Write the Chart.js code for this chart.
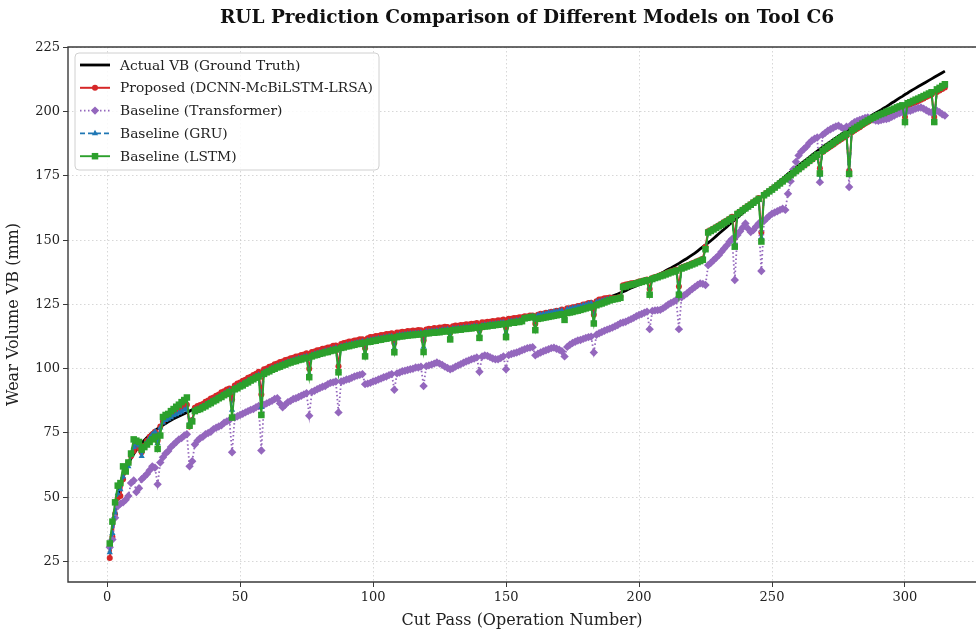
<!DOCTYPE html>
<html>
<head>
<meta charset="utf-8">
<script src="https://cdn.jsdelivr.net/npm/chart.js@4.4.0/dist/chart.umd.min.js"></script>
<style>
  html, body { margin: 0; padding: 0; background: #fff; }
  #wrap { width: 976px; height: 633px; }
</style>
</head>
<body>
<div id="wrap"><canvas id="chart" width="976" height="633"></canvas></div>
<script>
// ---- data ----
const chartTitle = 'RUL Prediction Comparison of Different Models on Tool C6';
const cutPass = Array.from({length: 315}, (_, i) => i + 1);
const xTicks = [0, 50, 100, 150, 200, 250, 300];
const yTicks = [25, 50, 75, 100, 125, 150, 175, 200, 225];

const actualVB = [
  28.0, 37.5, 45.0, 50.5, 54.5, 57.8, 60.6, 63.0, 65.0, 66.8,
  68.4, 69.8, 71.0, 72.2, 73.2, 74.2, 75.1, 75.9, 76.7, 77.4,
  78.1, 78.7, 79.3, 79.9, 80.5, 81.0, 81.5, 82.0, 82.5, 83.0,
  83.5, 84.0, 84.5, 85.0, 85.5, 86.1, 86.7, 87.3, 87.9, 88.5,
  89.1, 89.7, 90.3, 90.9, 91.5, 92.1, 92.6, 93.2, 93.7, 94.3,
  94.8, 95.4, 96.0, 96.6, 97.2, 97.7, 98.3, 98.8, 99.3, 99.8,
  100.3, 100.8, 101.3, 101.7, 102.1, 102.5, 102.9, 103.3, 103.7, 104.0,
  104.3, 104.6, 104.9, 105.2, 105.5, 105.8, 106.1, 106.4, 106.7, 107.0,
  107.3, 107.6, 107.8, 108.1, 108.4, 108.7, 109.0, 109.3, 109.6, 109.9,
  110.1, 110.3, 110.6, 110.8, 111.0, 111.2, 111.4, 111.6, 111.8, 112.0,
  112.2, 112.4, 112.6, 112.8, 113.0, 113.2, 113.3, 113.5, 113.6, 113.8,
  113.9, 114.0, 114.2, 114.3, 114.4, 114.5, 114.6, 114.7, 114.8, 115.0,
  115.1, 115.2, 115.3, 115.4, 115.5, 115.7, 115.8, 115.9, 116.0, 116.2,
  116.3, 116.4, 116.5, 116.7, 116.8, 116.9, 117.0, 117.2, 117.3, 117.4,
  117.6, 117.7, 117.8, 118.0, 118.1, 118.2, 118.4, 118.5, 118.7, 118.8,
  118.9, 119.1, 119.2, 119.4, 119.5, 119.7, 119.9, 120.0, 120.2, 120.4,
  120.5, 120.7, 120.9, 121.1, 121.3, 121.5, 121.7, 121.9, 122.1, 122.3,
  122.5, 122.7, 123.0, 123.2, 123.4, 123.7, 123.9, 124.2, 124.5, 124.8,
  125.1, 125.4, 125.7, 126.0, 126.4, 126.7, 127.1, 127.5, 127.9, 128.3,
  128.7, 129.1, 129.5, 130.0, 130.4, 130.9, 131.4, 131.8, 132.3, 132.8,
  133.3, 133.8, 134.3, 134.8, 135.3, 135.9, 136.4, 137.0, 137.5, 138.1,
  138.7, 139.2, 139.8, 140.4, 141.0, 141.7, 142.3, 142.9, 143.6, 144.3,
  145.0, 145.8, 146.6, 147.4, 148.2, 149.0, 149.8, 150.7, 151.6, 152.5,
  153.4, 154.3, 155.2, 156.1, 157.0, 157.9, 158.8, 159.7, 160.6, 161.5,
  162.4, 163.3, 164.2, 165.1, 166.0, 166.9, 167.8, 168.7, 169.6, 170.5,
  171.4, 172.3, 173.2, 174.0, 174.9, 175.8, 176.6, 177.5, 178.3, 179.1,
  179.9, 180.7, 181.5, 182.3, 183.1, 183.9, 184.7, 185.5, 186.2, 187.0,
  187.7, 188.4, 189.1, 189.8, 190.5, 191.2, 191.9, 192.6, 193.2, 193.9,
  194.5, 195.2, 195.8, 196.4, 197.1, 197.7, 198.3, 198.9, 199.5, 200.1,
  200.7, 201.4, 202.0, 202.7, 203.4, 204.0, 204.7, 205.4, 206.0, 206.7,
  207.3, 208.0, 208.6, 209.2, 209.8, 210.4, 211.0, 211.6, 212.2, 212.8,
  213.4, 214.0, 214.6, 215.2, 215.8
];

const proposed = [
  26.3, 34.5, 43.5, 49.8, 50.5, 57.0, 60.5, 63.5, 66.0, 68.0,
  70.5, 69.0, 67.5, 70.0, 72.0, 73.5, 74.5, 75.5, 72.0, 77.5,
  79.5, 80.5, 81.5, 82.0, 82.8, 83.3, 84.0, 84.8, 85.5, 86.0,
  77.5, 80.0, 84.8, 85.5, 85.9, 86.3, 87.1, 87.6, 88.4, 88.8,
  89.5, 90.0, 90.8, 91.2, 91.9, 92.3, 88.0, 93.5, 94.2, 94.6,
  95.3, 95.7, 96.5, 96.9, 97.6, 98.0, 98.8, 90.0, 99.8, 100.1,
  100.8, 101.1, 101.7, 102.0, 102.6, 102.8, 103.4, 103.6, 104.1, 104.3,
  104.8, 104.9, 105.3, 105.5, 106.0, 100.0, 106.5, 106.7, 107.2, 107.3,
  107.8, 107.9, 108.3, 108.4, 108.9, 109.0, 101.0, 109.6, 110.0, 110.2,
  110.6, 110.6, 111.0, 111.1, 111.5, 111.5, 108.0, 111.9, 112.3, 112.3,
  112.7, 112.7, 113.1, 113.1, 113.5, 113.5, 113.8, 110.0, 114.1, 114.1,
  114.4, 114.3, 114.7, 114.6, 114.9, 114.8, 115.1, 115.0, 111.0, 115.3,
  115.6, 115.5, 115.8, 115.7, 116.0, 116.0, 116.3, 116.2, 114.0, 116.5,
  116.8, 116.7, 117.0, 117.0, 117.3, 117.2, 117.5, 117.5, 117.8, 115.0,
  118.1, 118.0, 118.3, 118.3, 118.6, 118.5, 118.9, 118.8, 119.2, 116.0,
  119.4, 119.4, 119.7, 119.7, 120.0, 120.0, 120.4, 120.3, 120.7, 120.7,
  117.5, 121.0, 121.4, 121.4, 121.8, 121.8, 122.2, 122.2, 122.6, 122.6,
  123.0, 121.0, 123.5, 123.5, 123.9, 124.0, 124.4, 124.5, 125.0, 125.1,
  125.6, 125.7, 121.0, 126.3, 126.9, 127.0, 127.4, 127.5, 127.7, 127.4,
  127.5, 127.6, 128.0, 132.5, 132.8, 133.0, 133.3, 133.4, 133.6, 133.9,
  134.1, 134.4, 134.7, 131.0, 135.3, 135.7, 136.0, 136.4, 136.7, 137.1,
  137.5, 137.9, 138.2, 138.6, 132.0, 139.4, 139.8, 140.2, 140.6, 141.0,
  141.4, 141.9, 142.3, 142.8, 147.5, 153.5, 154.0, 154.6, 155.2, 155.8,
  156.4, 157.1, 157.7, 158.4, 159.1, 151.0, 160.5, 161.2, 162.0, 162.7,
  163.4, 164.1, 164.9, 165.6, 166.4, 153.0, 167.8, 168.5, 169.2, 170.0,
  170.6, 171.4, 172.2, 172.9, 173.7, 174.5, 175.2, 176.0, 176.8, 177.5,
  178.3, 179.1, 179.8, 180.6, 181.3, 182.1, 182.8, 178.0, 184.3, 185.1,
  185.8, 186.5, 187.2, 187.9, 188.6, 189.3, 190.0, 190.7, 177.0, 192.0,
  192.7, 193.4, 194.0, 194.7, 195.4, 196.0, 196.6, 197.1, 197.6, 198.0,
  198.4, 198.8, 199.2, 199.6, 200.0, 200.4, 200.8, 201.2, 201.6, 198.0,
  202.4, 202.8, 203.3, 203.7, 204.2, 204.7, 205.2, 205.7, 206.2, 206.7,
  198.0, 207.7, 208.3, 208.9, 209.4
];

const transformer = [
  30.5, 33.5, 42.0, 46.5, 47.5, 48.0, 49.0, 50.5, 55.5, 56.5,
  52.0, 53.5, 57.0, 58.0, 59.0, 60.5, 62.0, 61.5, 55.0, 63.5,
  65.5, 67.0, 68.0, 69.5, 70.5, 71.5, 72.5, 73.0, 74.0, 74.5,
  62.0, 64.0, 70.5, 72.0, 73.0, 73.5, 74.5, 75.0, 75.5, 76.5,
  77.0, 77.5, 78.0, 79.0, 79.5, 80.0, 67.5, 81.0, 81.5, 82.0,
  82.5, 83.0, 83.5, 84.0, 84.3, 85.0, 85.5, 68.2, 86.0, 86.5,
  87.0, 87.5, 88.2, 88.5, 86.5, 85.0, 86.0, 87.0, 87.5, 88.2,
  88.5, 89.0, 89.5, 90.0, 90.5, 81.7, 91.0, 91.4, 92.0, 92.5,
  93.0, 93.3, 94.0, 94.5, 94.7, 95.0, 83.0, 95.0, 95.3, 95.8,
  96.0, 96.5, 97.0, 97.3, 97.6, 97.9, 94.0, 94.2, 94.5, 95.0,
  95.3, 95.8, 96.2, 96.7, 97.0, 97.5, 97.9, 91.8, 98.2, 98.5,
  99.0, 99.2, 99.5, 99.8, 100.0, 100.5, 100.5, 100.8, 93.3, 101.0,
  101.3, 101.6, 102.0, 102.4, 102.0, 101.5, 100.8, 100.3, 99.8, 100.2,
  100.8, 101.3, 101.8, 102.3, 102.8, 103.2, 103.7, 104.0, 104.4, 98.8,
  104.8, 105.2, 105.0, 104.5, 104.0, 103.7, 103.7, 104.2, 104.8, 99.8,
  105.3, 105.7, 106.0, 106.3, 106.7, 107.2, 107.6, 108.0, 108.2, 108.4,
  105.2, 105.8, 106.3, 106.8, 107.2, 107.6, 108.0, 108.2, 107.8, 107.4,
  106.8, 104.8, 108.5, 109.3, 110.0, 110.5, 111.0, 111.2, 111.6, 112.0,
  112.3, 112.5, 106.3, 113.2, 113.8, 114.3, 114.8, 115.2, 115.6, 116.0,
  116.5, 117.0, 117.7, 118.0, 118.3, 118.8, 119.3, 119.8, 120.4, 120.9,
  121.3, 121.8, 122.2, 115.4, 122.5, 122.7, 122.8, 122.9, 123.5, 124.2,
  125.0, 125.6, 126.1, 126.8, 115.4, 127.8, 128.6, 129.3, 130.2, 131.0,
  131.8, 132.6, 133.2, 133.0, 132.6, 140.3, 141.2, 142.2, 143.2, 144.2,
  145.5, 146.8, 148.0, 149.4, 150.5, 134.5, 152.0, 153.5, 155.0, 156.5,
  154.5, 153.2, 154.0, 155.3, 156.5, 138.0, 157.5, 158.5, 159.5, 160.3,
  160.8, 161.3, 161.8, 162.3, 161.8, 168.1, 173.0, 177.5, 180.5, 183.0,
  184.5, 185.5, 186.5, 187.8, 188.8, 189.5, 190.0, 172.6, 191.0, 191.8,
  192.6, 193.2, 193.8, 194.3, 194.6, 194.0, 193.3, 194.2, 170.7, 195.2,
  195.9, 196.4, 196.8, 197.2, 197.6, 197.8, 197.5, 197.0, 196.6, 196.5,
  196.8, 197.1, 197.2, 197.5, 198.0, 198.5, 199.1, 199.5, 199.8, 200.1,
  200.3, 200.4, 200.8, 201.2, 201.5, 201.7, 201.2, 200.6, 200.0, 199.7,
  200.0, 200.4, 199.8, 199.0, 198.5
];

const gru = [
  28.5, 36.0, 44.0, 51.5, 53.0, 58.0, 61.5, 62.0, 66.5, 69.5,
  70.5, 70.0, 66.0, 69.5, 71.5, 73.0, 74.5, 75.5, 71.0, 77.0,
  79.0, 80.0, 80.5, 81.0, 81.8, 82.2, 82.8, 83.3, 84.0, 84.5,
  79.0, 80.0, 84.0, 84.4, 84.9, 85.5, 86.0, 86.7, 87.2, 87.9,
  88.4, 89.1, 89.6, 90.3, 90.8, 91.5, 84.0, 92.6, 93.0, 93.7,
  94.1, 94.8, 95.3, 96.0, 96.5, 97.1, 97.6, 85.0, 98.6, 99.2,
  99.6, 100.2, 100.6, 101.1, 101.4, 101.9, 102.2, 102.7, 103.0, 103.4,
  103.6, 104.0, 104.2, 104.6, 104.8, 98.0, 105.4, 105.8, 106.0, 106.4,
  106.6, 107.0, 107.1, 107.5, 107.7, 108.1, 99.0, 108.7, 108.9, 109.3,
  109.4, 109.7, 109.9, 110.2, 110.3, 110.6, 106.0, 111.0, 111.1, 111.4,
  111.5, 111.8, 111.9, 112.2, 112.3, 112.6, 112.6, 108.0, 112.9, 113.2,
  113.2, 113.4, 113.5, 113.7, 113.7, 113.9, 113.9, 114.1, 108.5, 114.4,
  114.4, 114.6, 114.6, 114.8, 114.8, 115.1, 115.1, 115.3, 112.5, 115.6,
  115.6, 115.8, 115.8, 116.1, 116.1, 116.3, 116.3, 116.6, 116.6, 113.0,
  116.9, 117.1, 117.1, 117.4, 117.4, 117.6, 117.7, 117.9, 118.0, 114.0,
  118.2, 118.5, 118.5, 118.8, 118.8, 119.2, 119.6, 119.8, 120.1, 120.4,
  116.0, 120.8, 121.0, 121.3, 121.4, 121.8, 121.8, 122.2, 122.2, 122.5,
  122.6, 120.0, 123.2, 123.3, 123.6, 123.8, 124.1, 124.3, 124.7, 124.9,
  125.2, 125.5, 118.5, 126.0, 126.2, 126.4, 126.7, 127.0, 127.2, 127.1,
  127.2, 127.3, 127.6, 131.8, 132.0, 132.3, 132.6, 132.8, 133.1, 133.4,
  133.6, 133.9, 134.2, 129.5, 134.8, 135.2, 135.5, 135.9, 136.2, 136.6,
  137.0, 137.4, 137.7, 138.1, 130.0, 138.9, 139.3, 139.7, 140.1, 140.5,
  140.9, 141.4, 141.8, 142.3, 146.5, 152.8, 153.4, 154.0, 154.6, 155.2,
  155.8, 156.5, 157.1, 157.8, 158.5, 148.5, 160.0, 160.7, 161.5, 162.2,
  162.9, 163.6, 164.4, 165.1, 165.9, 151.0, 167.3, 168.0, 168.8, 169.5,
  170.3, 171.1, 171.9, 172.7, 173.5, 174.3, 175.1, 175.9, 176.7, 177.5,
  178.3, 179.1, 179.9, 180.7, 181.5, 182.3, 183.1, 175.5, 184.6, 185.4,
  186.2, 186.9, 187.6, 188.4, 189.1, 189.8, 190.5, 191.2, 175.5, 192.5,
  193.2, 193.9, 194.5, 195.2, 195.8, 196.4, 197.0, 197.5, 198.0, 198.5,
  198.9, 199.3, 199.8, 200.2, 200.6, 201.0, 201.5, 201.9, 202.3, 196.5,
  203.1, 203.5, 204.0, 204.5, 204.9, 205.4, 205.9, 206.4, 206.9, 207.4,
  196.0, 208.4, 209.0, 209.6, 210.1
];

const lstm = [
  32.0, 40.5, 48.0, 54.5, 55.5, 62.0, 60.0, 63.5, 67.0, 72.5,
  72.0, 71.5, 68.5, 69.5, 70.5, 71.5, 72.5, 73.5, 68.8, 74.0,
  81.2, 82.0, 82.4, 83.5, 84.3, 85.2, 86.0, 87.0, 87.8, 88.8,
  77.8, 79.5, 83.5, 84.0, 84.3, 84.9, 85.4, 86.1, 86.6, 87.3,
  87.8, 88.5, 89.0, 89.7, 90.2, 90.9, 81.0, 92.0, 92.4, 93.1,
  93.5, 94.2, 94.7, 95.4, 95.9, 96.5, 97.0, 82.0, 98.0, 98.6,
  99.0, 99.6, 100.0, 100.5, 100.8, 101.3, 101.6, 102.1, 102.4, 102.8,
  103.0, 103.4, 103.6, 104.0, 104.2, 96.7, 104.8, 105.2, 105.4, 105.8,
  106.0, 106.4, 106.5, 106.9, 107.1, 107.5, 98.6, 108.1, 108.3, 108.7,
  108.8, 109.1, 109.3, 109.6, 109.7, 110.0, 104.8, 110.4, 110.5, 110.8,
  110.9, 111.2, 111.3, 111.6, 111.7, 112.0, 112.0, 106.4, 112.3, 112.6,
  112.6, 112.8, 112.9, 113.1, 113.1, 113.3, 113.3, 113.5, 106.5, 113.8,
  113.8, 114.0, 114.0, 114.2, 114.2, 114.5, 114.5, 114.7, 111.4, 115.0,
  115.0, 115.2, 115.2, 115.5, 115.5, 115.7, 115.7, 116.0, 116.0, 112.0,
  116.3, 116.5, 116.5, 116.8, 116.8, 117.0, 117.1, 117.3, 117.4, 112.3,
  117.6, 117.9, 117.9, 118.2, 118.2, 118.5, 119.6, 119.8, 120.0, 120.2,
  115.0, 119.4, 119.6, 119.8, 120.0, 120.2, 120.4, 120.6, 120.8, 121.0,
  121.2, 119.0, 121.7, 121.9, 122.1, 122.4, 122.6, 122.9, 123.2, 123.5,
  123.8, 124.1, 117.6, 124.7, 125.1, 125.4, 125.8, 126.2, 126.6, 126.9,
  127.1, 127.3, 127.6, 131.8, 132.0, 132.4, 132.7, 132.9, 133.2, 133.5,
  133.8, 134.1, 134.4, 128.8, 134.9, 135.3, 135.6, 136.0, 136.3, 136.7,
  137.1, 137.5, 137.8, 138.2, 128.8, 139.0, 139.4, 139.8, 140.2, 140.6,
  141.0, 141.5, 141.9, 142.4, 146.5, 153.0, 153.6, 154.2, 154.8, 155.4,
  156.0, 156.7, 157.3, 158.0, 158.7, 147.5, 160.2, 160.9, 161.7, 162.4,
  163.1, 163.8, 164.6, 165.3, 166.1, 149.5, 167.5, 168.2, 169.0, 169.7,
  170.5, 171.3, 172.1, 172.9, 173.7, 174.5, 175.3, 176.1, 176.9, 177.7,
  178.5, 179.3, 180.1, 180.9, 181.7, 182.5, 183.3, 176.0, 184.8, 185.6,
  186.4, 187.1, 187.8, 188.6, 189.3, 190.0, 190.7, 191.4, 175.8, 192.7,
  193.4, 194.1, 194.7, 195.4, 196.0, 196.6, 197.2, 197.7, 198.2, 198.7,
  199.1, 199.5, 200.0, 200.4, 200.8, 201.2, 201.7, 202.1, 202.5, 196.0,
  203.3, 203.7, 204.2, 204.7, 205.1, 205.6, 206.1, 206.6, 207.1, 207.6,
  196.0, 208.7, 209.3, 210.0, 210.7
];

// ---- helpers ----
const serif = '"DejaVu Serif", "Liberation Serif", serif';
const toPoints = vals => vals.map((v, i) => ({x: cutPass[i], y: v}));

function drawMarker(ctx, style, x, y, r) {
  ctx.beginPath();
  if (style === 'circle') {
    ctx.arc(x, y, r, 0, Math.PI * 2);
  } else if (style === 'rect') {
    const h = r * Math.SQRT1_2;
    ctx.rect(x - h, y - h, 2 * h, 2 * h);
  } else if (style === 'rectRot') {
    ctx.moveTo(x, y - r); ctx.lineTo(x + r, y); ctx.lineTo(x, y + r); ctx.lineTo(x - r, y);
    ctx.closePath();
  } else if (style === 'triangle') {
    ctx.moveTo(x, y - r);
    ctx.lineTo(x + r * 0.866, y + r * 0.5);
    ctx.lineTo(x - r * 0.866, y + r * 0.5);
    ctx.closePath();
  }
  ctx.fill();
}

// spines, title and a matplotlib-like legend box
const frame = {
  id: 'frame',
  afterDraw(chart) {
    const {ctx, chartArea: a} = chart;
    ctx.save();
    ctx.strokeStyle = '#3a3a3a';
    ctx.lineWidth = 1.4;
    ctx.beginPath();
    ctx.moveTo(a.right, a.top); ctx.lineTo(a.left, a.top);
    ctx.lineTo(a.left, a.bottom); ctx.lineTo(a.right, a.bottom);
    ctx.stroke();

    ctx.fillStyle = '#111';
    ctx.font = 'bold 18.5px ' + serif;
    ctx.textAlign = 'center';
    ctx.textBaseline = 'middle';
    ctx.fillText(chartTitle, 527, 18);

    // legend
    const bx = 75, by = 53, bw = 304, bh = 117;
    ctx.beginPath();
    ctx.roundRect(bx, by, bw, bh, 4);
    ctx.fillStyle = 'rgba(255,255,255,0.85)';
    ctx.fill();
    ctx.strokeStyle = '#d0d0d0';
    ctx.lineWidth = 1;
    ctx.stroke();

    const sets = chart.data.datasets;
    ctx.font = '13.8px ' + serif;
    ctx.textAlign = 'left';
    sets.forEach((ds, i) => {
      const y = 65 + i * 22.8;
      ctx.strokeStyle = ds.borderColor;
      ctx.lineWidth = ds.borderWidth;
      ctx.setLineDash(ds.borderDash || []);
      ctx.beginPath();
      ctx.moveTo(80, y); ctx.lineTo(110, y);
      ctx.stroke();
      ctx.setLineDash([]);
      if (ds.pointRadius > 0) {
        ctx.fillStyle = ds.borderColor;
        drawMarker(ctx, ds.pointStyle, 95, y, ds.pointRadius);
      }
      ctx.fillStyle = '#222';
      ctx.fillText(ds.label, 120, y + 1);
    });
    ctx.restore();
  }
};

Chart.defaults.font.family = serif;
Chart.defaults.font.size = 13;
Chart.defaults.color = '#222';

new Chart(document.getElementById('chart'), {
  type: 'line',
  data: {
    datasets: [
      {
        label: 'Actual VB (Ground Truth)', data: toPoints(actualVB),
        borderColor: '#000000', borderWidth: 2.8, pointRadius: 0, order: 5
      },
      {
        label: 'Proposed (DCNN-McBiLSTM-LRSA)', data: toPoints(proposed),
        borderColor: '#d62728', backgroundColor: '#d62728', borderWidth: 2,
        pointStyle: 'circle', pointRadius: 3, pointBorderWidth: 0, order: 4
      },
      {
        label: 'Baseline (Transformer)', data: toPoints(transformer),
        borderColor: '#9467bd', backgroundColor: '#9467bd', borderWidth: 1.8,
        borderDash: [1.5, 2.5], pointStyle: 'rectRot', pointRadius: 4.2,
        pointBorderWidth: 0, order: 3
      },
      {
        label: 'Baseline (GRU)', data: toPoints(gru),
        borderColor: '#1f77b4', backgroundColor: '#1f77b4', borderWidth: 1.8,
        borderDash: [5, 3], pointStyle: 'triangle', pointRadius: 3.6,
        pointBorderWidth: 0, order: 2
      },
      {
        label: 'Baseline (LSTM)', data: toPoints(lstm),
        borderColor: '#2ca02c', backgroundColor: '#2ca02c', borderWidth: 1.9,
        pointStyle: 'rect', pointRadius: 4.6, pointBorderWidth: 0, order: 1
      }
    ]
  },
  options: {
    responsive: false,
    animation: false,
    devicePixelRatio: 1,
    layout: { autoPadding: false, padding: { top: 47, right: 0, left: 0, bottom: 0 } },
    elements: { line: { tension: 0 } },
    plugins: { legend: { display: false }, tooltip: { enabled: false }, title: { display: false } },
    scales: {
      x: {
        type: 'linear', min: -14.7, max: 326.7,
        afterFit: s => { s.height = 51; s.paddingLeft = 0; s.paddingRight = 0; },
        afterBuildTicks: s => { s.ticks = xTicks.map(v => ({value: v})); },
        ticks: { padding: 3, font: { size: 13 } },
        grid: { color: 'rgba(170,170,170,0.6)', lineWidth: 0.8, tickLength: 5, tickColor: '#3a3a3a', tickWidth: 1 },
        border: { display: false, dash: [1.5, 2.5] },
        title: { display: true, text: 'Cut Pass (Operation Number)', font: { size: 16 }, padding: { top: 2, bottom: 3 } }
      },
      y: {
        type: 'linear', min: 17, max: 225.2,
        afterFit: s => { s.width = 68; },
        afterBuildTicks: s => { s.ticks = yTicks.map(v => ({value: v})); },
        ticks: { padding: 3, font: { size: 13 } },
        grid: { color: 'rgba(170,170,170,0.6)', lineWidth: 0.8, tickLength: 5, tickColor: '#3a3a3a', tickWidth: 1 },
        border: { display: false, dash: [1.5, 2.5] },
        title: { display: true, text: 'Wear Volume VB (mm)', font: { size: 16 }, padding: { top: 4, bottom: 2 } }
      }
    }
  },
  plugins: [frame]
});
</script>
</body>
</html>
